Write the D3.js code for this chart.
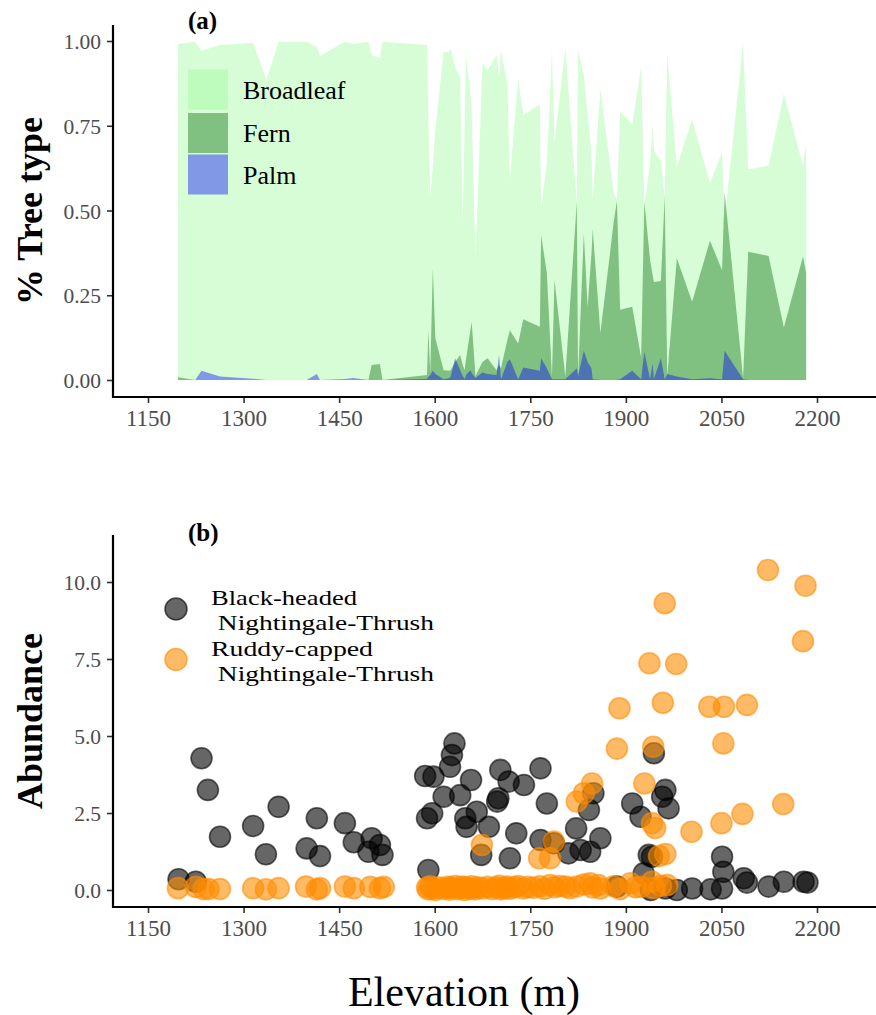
<!DOCTYPE html>
<html>
<head>
<meta charset="utf-8">
<script src="https://cdn.jsdelivr.net/npm/d3@7"></script>
<style>
  html, body { margin: 0; padding: 0; background: #fff; }
  svg { display: block; }
  text { font-family: "Liberation Serif", serif; }
</style>
</head>
<body>
<svg id="chart" width="876" height="1015"></svg>
<script>
// ---------------- DATA ----------------
// Panel (a): proportion of tree types along the elevation transect
const elevation = [1197,1224,1234,1263,1315,1336,1355,1399,1415,1420,1459,1472,1496,1501,1514,1518,
  1588,1590,1593,1597,1601,1614,1623,1625,1632,1640,1644,1647,1649,1656,1658,1664,1675,1683,1697,1701,
  1704,1714,1718,1731,1739,1765,1767,1776,1784,1788,1805,1823,1825,1834,1840,1846,1848,1860,1881,1886,
  1891,1910,1924,1929,1938,1942,1944,1955,1961,1965,1980,2004,2032,2051,2055,2084,2092,2124,2148,2178,2183];
const broadleaf = [0.991,0.998,0.971,0.988,0.995,0.885,0.998,0.998,0.983,0.956,0.998,0.991,0.998,0.959,0.949,0.998,
  0.988,0.767,0.541,0.631,0.737,0.968,0.967,0.978,0.924,0.890,0.472,0.752,0.959,0.847,0.796,0.364,0.934,0.914,0.959,0.895,
  0.973,0.875,0.590,0.890,0.782,0.813,0.511,0.639,0.968,0.703,0.979,0.521,0.973,0.900,0.782,0.669,0.531,0.860,0.551,0.531,
  0.791,0.755,0.925,0.516,0.637,0.757,0.678,0.646,0.540,0.964,0.628,0.769,0.580,0.673,0.472,0.995,0.622,0.632,0.844,0.633,0.698];
const fern = [0.008,0,0,0,0,0,0,0,0,0,0,0,0,0.044,0.047,0,
  0.015,0.147,0.021,0.330,0.123,0.029,0.027,0.029,0.053,0.074,0.044,0.029,0.059,0.147,0.172,0.012,0.053,0.064,0.029,0.044,
  0.035,0.118,0.147,0.108,0.179,0.157,0.428,0.315,0.010,0.295,0.010,0.526,0.010,0.433,0.215,0.372,0.445,0.138,0.466,0.529,
  0.207,0.216,0.066,0.526,0.354,0.310,0.289,0.292,0.541,0.012,0.359,0.231,0.411,0.324,0.555,0.005,0.378,0.366,0.155,0.364,0.316];
const palm = [0,0,0.027,0.010,0.004,0,0,0,0.018,0,0.003,0.006,0,0,0,0,
  0.003,0.009,0.015,0.027,0.018,0.002,0.006,0.009,0.064,0.029,0.012,0.002,0.015,0.029,0.021,0.006,0.022,0.018,0.015,0.074,
  0.002,0.053,0.061,0.002,0.037,0.027,0.064,0.035,0.002,0.002,0.002,0.035,0.012,0.086,0.053,0.035,0.002,0,0,0,
  0.002,0.027,0.002,0.083,0.002,0.049,0.003,0.064,0.002,0.018,0.010,0.002,0.005,0.002,0.086,0.002,0,0,0,0,0];
const treeTypes = ["Broadleaf", "Fern", "Palm"];

// Panel (b): abundance of the two nightingale-thrushes
const blackElev = [1198,1225,1234,1244,1263,1315,1335,1355,1399,1415,1420,1459,1473,1501,1496,1514,1518,
  1585,1598,1588,1596,1590,1614,1624,1627,1631,1640,1657,1648,1650,1666,1685,1700,1698,1703,1716,1740,1766,1728,1673,1718,1766,1776,
  1787,1810,1829,1844,1822,1842,1849,1860,1886,1910,1923,1944,1962,1957,1967,1936,1941,1928,1939,1962,1980,2004,2033,2051,2051,2053,2085,2090,2124,2148,2179,2185];
const blackAbund = [0.35,0.27,4.28,3.25,1.73,2.08,1.16,2.70,1.35,2.33,1.10,2.17,1.55,1.68,1.24,1.46,1.14,
  3.70,3.68,2.33,2.49,0.65,3.03,4.00,4.38,4.76,3.08,3.57,2.33,2.05,2.54,2.05,2.98,2.87,3.90,3.52,3.41,3.95,1.84,1.14,1.03,1.62,2.81,
  1.52,1.19,1.30,1.24,2.00,2.60,3.14,1.68,0.11,2.81,2.38,4.44,3.25,3.03,2.65,1.14,1.08,0.54,0.00,0.05,0.00,0.05,0.02,0.05,1.08,0.59,0.38,0.24,0.11,0.27,0.27,0.24];
const ruddyElev = [1197,1225,1237,1245,1263,1315,1335,1355,1398,1415,1420,1459,1473,1499,1514,1520,
  1588,1590,1593,1597,1601,1605,1614,1620,1623,1625,1632,1636,1640,1644,1647,1649,1656,1658,1664,1668,1675,1683,1690,1697,1701,1704,1710,1714,1718,1725,1731,1739,1746,1755,
  1765,1772,1781,1788,1796,1805,1812,1823,1834,1844,1848,1857,1860,1881,1891,1907,1915,1924,1941,1944,1955,1965,
  1674,1764,1781,1787,1823,1834,1847,1886,1890,1929,1937,1943,1941,1946,1952,1962,1958,1961,1979,2003,2031,2050,2053,2054,2083,2090,2123,2147,2178,2182];
const ruddyAbund = [0.06,0.10,0.03,0.03,0.03,0.06,0.02,0.06,0.11,0.02,0.06,0.11,0.06,0.10,0.06,0.10,
  0.08,0.02,0.12,0.05,0.00,0.09,0.04,0.10,0.01,0.07,0.13,0.03,0.06,0.11,0.00,0.08,0.04,0.12,0.02,0.09,0.05,0.10,0.03,0.08,0.14,0.02,0.06,0.11,0.04,0.09,0.13,0.05,0.10,0.07,
  0.12,0.04,0.16,0.09,0.13,0.11,0.06,0.11,0.18,0.22,0.08,0.16,0.05,0.12,0.03,0.22,0.09,0.10,0.27,0.06,0.14,0.16,
  1.46,1.03,1.03,1.57,2.87,3.14,3.46,4.59,5.90,3.46,7.36,4.65,2.17,2.01,1.10,1.17,6.08,9.31,7.34,1.89,5.95,2.17,4.76,5.95,2.47,6.01,10.39,2.79,8.08,9.88];
const species = ["Black-headed\n Nightingale-Thrush", "Ruddy-capped\n Nightingale-Thrush"];

const xTicks = [1150, 1300, 1450, 1600, 1750, 1900, 2050, 2200];
const yTicksA = [0, 0.25, 0.5, 0.75, 1];
const yTicksB = [0, 2.5, 5, 7.5, 10];

// ---------------- DRAWING ----------------
const svg = d3.select("#chart");
const axisLeftX = 113, axisRightX = 876;
const A = { top: 25, bottom: 397 };
const B = { top: 535, bottom: 907 };

const x = d3.scaleLinear().domain([1150, 2200]).range([148, 817]);
const yA = d3.scaleLinear().domain([0, 1]).range([380, 41]);
const yB = d3.scaleLinear().domain([0, 10]).range([890, 582]);

const treeColors = { Broadleaf: "#98FB98", Fern: "#006400", Palm: "#0000FF" };
const treeVals = { Broadleaf: broadleaf, Fern: fern, Palm: palm };

// Areas (identity position, translucent, drawn in order)
const gA = svg.append("g");
treeTypes.forEach(t => {
  const rows = elevation.map((e, i) => ({ e, v: treeVals[t][i] }));
  const area = d3.area().x(d => x(d.e)).y0(yA(0)).y1(d => yA(d.v));
  gA.append("path").datum(rows).attr("d", area)
    .attr("fill", treeColors[t]).attr("fill-opacity", 0.4);
});

// Legend (a) drawn over the panel
const legA = svg.append("g");
treeTypes.forEach((t, i) => {
  const cy = [89.5, 133, 174.5][i];
  legA.append("rect").attr("x", 188).attr("y", cy - 20).attr("width", 40).attr("height", 40)
    .attr("fill", treeColors[t]).attr("fill-opacity", 0.4);
  legA.append("text").attr("x", 243).attr("y", cy + 9).attr("font-size", 26).attr("fill", "#000").text(t);
});

// Points (b)
const gB = svg.append("g");
function drawPts(elev, ab, col) {
  gB.selectAll(null).data(elev.map((e, i) => ({ e, v: ab[i] }))).enter().append("circle")
    .attr("cx", d => x(d.e)).attr("cy", d => yB(d.v)).attr("r", 10.5)
    .attr("fill", col).attr("fill-opacity", 0.6)
    .attr("stroke", col).attr("stroke-opacity", 0.6).attr("stroke-width", 1.6);
}
drawPts(blackElev, blackAbund, "#000000");
drawPts(ruddyElev, ruddyAbund, "#FF8C00");

// Legend (b)
const legB = svg.append("g");
const lineWidths = [[146, 223], [162, 223]];
[["#000000", 609], ["#FF8C00", 659.5]].forEach(([c, cy], i) => {
  legB.append("circle").attr("cx", 176).attr("cy", cy).attr("r", 11)
    .attr("fill", c).attr("fill-opacity", 0.6).attr("stroke", c).attr("stroke-opacity", 0.6).attr("stroke-width", 1.6);
  const lines = species[i].split("\n");
  lines.forEach((ln, j) => {
    legB.append("text").attr("x", 211).attr("y", cy - 4 + j * 25.3)
      .attr("font-size", 22).attr("fill", "#000")
      .attr("textLength", lineWidths[i][j]).attr("lengthAdjust", "spacingAndGlyphs")
      .attr("xml:space", "preserve").style("white-space", "pre").text(ln);
  });
});

// Axes
function styleAxis(g) {
  g.select(".domain").remove();
  g.selectAll(".tick line").attr("stroke", "#333").attr("stroke-width", 1.6);
  g.selectAll(".tick text").attr("fill", "#4D4D4D").style("font-family", "Liberation Serif");
}
function axesFor(top, bottom, yScale, yTicks, fmt) {
  svg.append("g").attr("transform", `translate(${axisLeftX},0)`)
    .call(d3.axisLeft(yScale).tickValues(yTicks).tickFormat(fmt).tickSize(6).tickPadding(6))
    .call(styleAxis).call(g => g.selectAll(".tick text").attr("font-size", 21.5).attr("dy", "0.35em"));
  svg.append("g").attr("transform", `translate(0,${bottom})`)
    .call(d3.axisBottom(x).tickValues(xTicks).tickFormat(d3.format("d")).tickSize(6).tickPadding(7))
    .call(styleAxis).call(g => g.selectAll(".tick text").attr("font-size", 23));
  svg.append("line").attr("x1", axisLeftX).attr("x2", axisLeftX).attr("y1", top).attr("y2", bottom + 1)
    .attr("stroke", "#000").attr("stroke-width", 2.2);
  svg.append("line").attr("x1", axisLeftX - 1).attr("x2", axisRightX).attr("y1", bottom).attr("y2", bottom)
    .attr("stroke", "#000").attr("stroke-width", 2.2);
}
axesFor(A.top, A.bottom, yA, yTicksA, d3.format(".2f"));
axesFor(B.top, B.bottom, yB, yTicksB, d3.format(".1f"));

// Titles and panel labels
svg.append("text").attr("transform", "translate(42,211) rotate(-90)").attr("text-anchor", "middle")
  .attr("font-size", 36).attr("font-weight", "bold").text("% Tree type");
svg.append("text").attr("transform", "translate(42,721) rotate(-90)").attr("text-anchor", "middle")
  .attr("font-size", 36).attr("font-weight", "bold").text("Abundance");
svg.append("text").attr("x", 464).attr("y", 1006).attr("text-anchor", "middle")
  .attr("font-size", 42).text("Elevation (m)");
svg.append("text").attr("x", 188).attr("y", 29).attr("font-size", 25).attr("font-weight", "bold").text("(a)");
svg.append("text").attr("x", 188).attr("y", 541).attr("font-size", 25).attr("font-weight", "bold").text("(b)");
</script>
</body>
</html>
